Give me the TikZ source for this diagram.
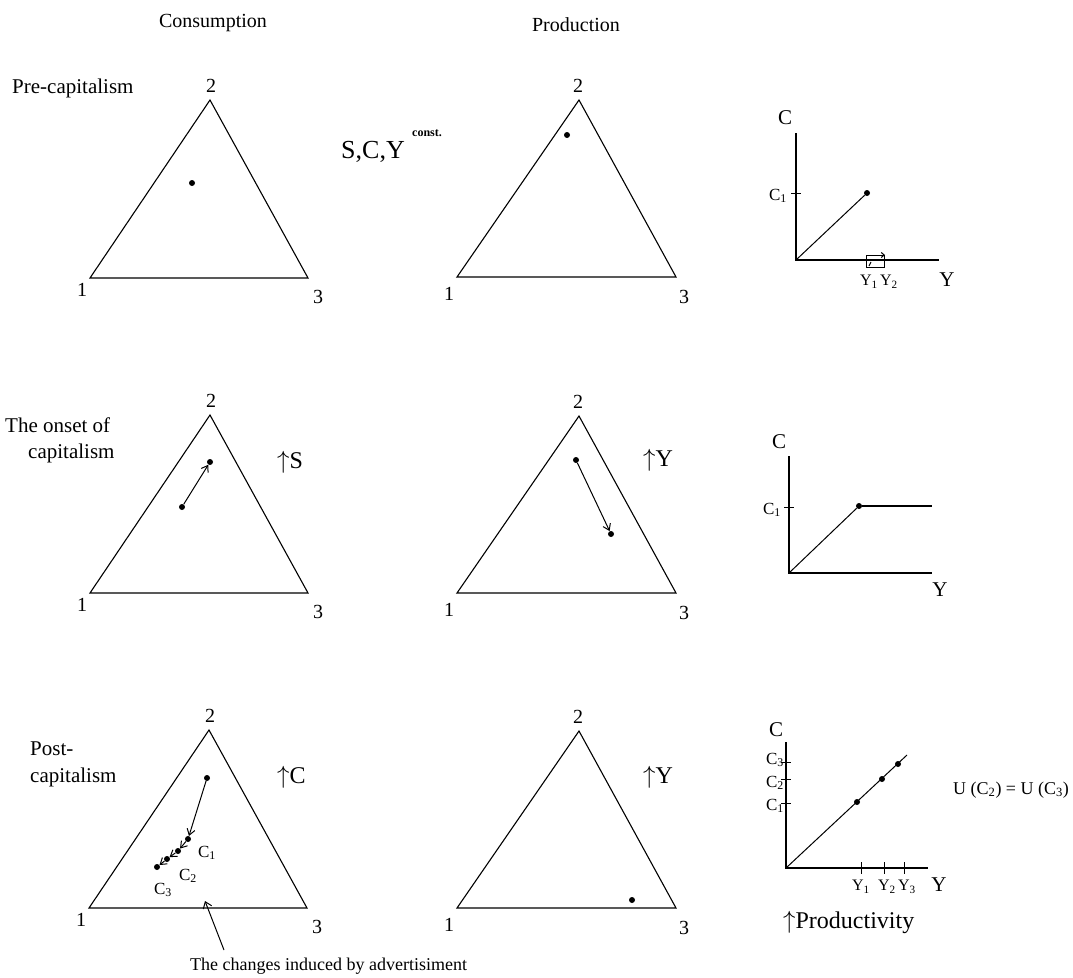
\documentclass[tikz,border=0pt]{standalone}
\usepackage{fontspec}
\setmainfont{Liberation Serif}
\usetikzlibrary{arrows.meta}
\begin{document}
\begin{tikzpicture}[x=1pt,y=-1pt,
  tri/.style={line width=1.1pt},
  ax/.style={line width=1.7pt},
  thin/.style={line width=1pt},
  dot/.style={circle,fill=black,inner sep=0pt,minimum size=6pt},
  arr/.style={line width=1pt,-{Straight Barb[length=6pt,width=8pt]}},
  t/.style={inner sep=0pt,font=\fontsize{20}{22}\selectfont},
  num/.style={inner sep=0pt,font=\fontsize{20}{22}\selectfont},
  ylab/.style={inner sep=0pt,font=\fontsize{21}{23}\selectfont},
  big/.style={inner sep=0pt,font=\fontsize{24}{26}\selectfont},
  mid/.style={inner sep=0pt,font=\fontsize{17}{19}\selectfont},
  sub/.style={inner sep=0pt,font=\fontsize{16}{18}\selectfont},
  rowlab/.style={inner sep=0pt,anchor=west,align=left,font=\fontsize{21}{28}\selectfont}]
\useasboundingbox (0,0) rectangle (1073,977);
% titles
\node[t] (tcons) at (213,23) {Consumption};
\node[t] (tprod) at (576,25) {Production};
% row labels
\node[rowlab] (r1) at (12,88) {Pre-capitalism};
\node[rowlab] (r2a) at (5,425) {The onset of};
\node[rowlab] (r2b) at (28,453) {capitalism};
\node[rowlab] (r3a) at (30,749) {Post-};
\node[rowlab] (r3b) at (30,777) {capitalism};
% ---------- consumption triangles
\foreach \n/\ax/\ay in {c1/210/100, c2/210/415, c3/209/730}{
  \coordinate (\n A) at (\ax,\ay);
  \coordinate (\n L) at (\ax-120,\ay+178);
  \coordinate (\n R) at (\ax+98,\ay+178);
  \draw[tri] (\n A) -- (\n L) -- (\n R) -- cycle;
  \node[num] (\n two) at (\ax+1,\ay-14) {2};
  \node[num] (\n one) at (\ax-128,\ay+190) {1};
  \node[num] (\n three) at (\ax+108,\ay+197) {3};
}
% ---------- production triangles
\foreach \n/\ay in {p1/100, p2/416, p3/731}{
  \coordinate (\n A) at (579,\ay);
  \coordinate (\n L) at (457,\ay+177);
  \coordinate (\n R) at (676,\ay+177);
  \draw[tri] (\n A) -- (\n L) -- (\n R) -- cycle;
  \node[num] (\n two) at (578,\ay-14) {2};
  \node[num] (\n one) at (449,\ay+194) {1};
  \node[num] (\n three) at (684,\ay+197) {3};
}
% ---------- row 1 contents
\node[dot] (d11) at (192,183) {};
\node[dot] (d12) at (567,135) {};
\node[inner sep=0pt,anchor=west,font=\fontsize{26}{28}\selectfont] (scy) at (341,152) {S,C,Y};
\node[inner sep=0pt,anchor=west,font=\bfseries\fontsize{12}{13}\selectfont] (const) at (412,133) {const.};
% ---------- row 2 contents
\node[dot] (d21s) at (182,507) {};
\node[dot] (d21e) at (210,462) {};
\draw[arr] (d21s) -- (d21e);
\node[dot] (d22s) at (576,460) {};
\node[dot] (d22e) at (611,534) {};
\draw[arr] (d22s) -- (d22e);
\node[big,anchor=west] (upS) at (277,462) {\(\uparrow\)S};
\node[big,anchor=west] (upY2) at (643,460) {\(\uparrow\)Y};
% ---------- row 3 contents
\node[dot] (d31s) at (207,778) {};
\node[dot] (d31c1) at (188,839) {};
\node[dot] (d31c2) at (178,851) {};
\node[dot] (d31c2b) at (167,859) {};
\node[dot] (d31c3) at (157,867) {};
\draw[arr] (d31s) -- (d31c1);
\draw[arr] (d31c1) -- (d31c2);
\draw[arr] (d31c2) -- (d31c2b);
\draw[arr] (d31c2b) -- (d31c3);
\node[mid] (lc1) at (207,853) {C\textsubscript{1}};
\node[mid] (lc2) at (188,876) {C\textsubscript{2}};
\node[mid] (lc3) at (163,890) {C\textsubscript{3}};
\node[dot] (d32) at (632,900) {};
\node[big,anchor=west] (upC) at (277,777) {\(\uparrow\)C};
\node[big,anchor=west] (upY3) at (643,777) {\(\uparrow\)Y};
% pointer and caption
\node[inner sep=0pt,anchor=west,font=\fontsize{18}{20}\selectfont] (cap) at (190,966) {The changes induced by advertisiment};
\coordinate (ptail) at (224,950);
\coordinate (phead) at (205,901);
\draw[thin,-{Straight Barb[length=6pt,width=9pt]}] (ptail) -- (phead);
% ---------- graph 1
\coordinate (g1o) at (796,260);
\coordinate (g1top) at (796,133);
\coordinate (g1right) at (939,260);
\draw[ax] (g1top) -- (g1o) -- (g1right);
\node[ylab] (g1C) at (785,118) {C};
\draw[thin] (791,193) -- (801,193);
\node[mid,anchor=east] (g1c1) at (787,196) {C\textsubscript{1}};
\node[dot] (g1d) at (867,193) {};
\draw[thin] (g1o) -- (g1d);
\draw[thin] (866,255) rectangle (884,267);
\draw[thin,-{Straight Barb[length=3pt,width=5pt]}] (870,255) -- (885,255);
\draw[thin] (869,266) -- (871,262);
\node[sub] (g1y1) at (869,282) {Y\textsubscript{1}};
\node[sub] (g1y2) at (889,282) {Y\textsubscript{2}};
\node[ylab] (g1Y) at (947,280) {Y};
% ---------- graph 2
\coordinate (g2o) at (789,573);
\coordinate (g2top) at (789,456);
\coordinate (g2right) at (932,573);
\draw[ax] (g2top) -- (g2o) -- (g2right);
\node[ylab] (g2C) at (779,442) {C};
\draw[thin] (784,507) -- (794,507);
\node[mid,anchor=east] (g2c1) at (781,510) {C\textsubscript{1}};
\node[dot] (g2d) at (859,506) {};
\coordinate (g2end) at (932,506);
\draw[thin] (g2o) -- (g2d);
\draw[ax] (g2d) -- (g2end);
\node[ylab] (g2Y) at (940,590) {Y};
% ---------- graph 3
\coordinate (g3o) at (786,868);
\coordinate (g3top) at (786,742);
\coordinate (g3right) at (928,868);
\coordinate (g3end) at (907,755);
\draw[ax] (g3top) -- (g3o) -- (g3right);
\node[ylab] (g3C) at (776,730) {C};
\draw[thin] (g3o) -- (g3end);
\node[dot] (g3d1) at (857,802) {};
\node[dot] (g3d2) at (882,779) {};
\node[dot] (g3d3) at (898,764) {};
\foreach \yy in {803,779,762}{\draw[thin] (781,\yy) -- (791,\yy);}
\foreach \xx in {861,884,904}{\draw[thin] (\xx,862) -- (\xx,874);}
\node[mid,anchor=east] (g3c1) at (784,806) {C\textsubscript{1}};
\node[mid,anchor=east] (g3c2) at (784,783) {C\textsubscript{2}};
\node[mid,anchor=east] (g3c3) at (784,760) {C\textsubscript{3}};
\node[sub] (g3y1) at (861,887) {Y\textsubscript{1}};
\node[sub] (g3y2) at (887,887) {Y\textsubscript{2}};
\node[sub] (g3y3) at (907,887) {Y\textsubscript{3}};
\node[ylab] (g3Y) at (939,885) {Y};
\node[inner sep=0pt,anchor=west,font=\fontsize{18}{19}\selectfont] (ueq) at (953,790) {U (C\textsubscript{2}) = U (C\textsubscript{3})};
\node[big,anchor=west] (prod) at (783,922) {\(\uparrow\)Productivity};
\end{tikzpicture}
\end{document}
